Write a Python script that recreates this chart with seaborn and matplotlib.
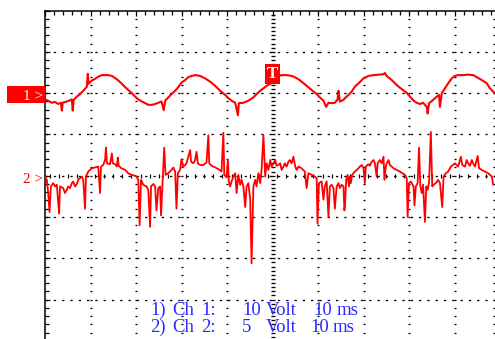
import numpy as np
import pandas as pd
import matplotlib
matplotlib.use("Agg")
import matplotlib.pyplot as plt
from matplotlib.patches import Rectangle
from matplotlib.ticker import MultipleLocator
import seaborn as sns

# ---------------- data (time in ms, voltage in V) ----------------
ch1_t = [0.0,0.7,1.5,2.2,2.9,3.5,3.7,3.9,4.5,5.3,5.9,6.1,6.3,7.0,7.7,8.4,9.2,9.4,9.6,10.3,
         11.0,11.7,12.5,13.2,13.9,14.7,15.4,16.1,16.9,17.6,18.3,19.1,19.8,20.5,21.3,22.0,22.7,23.5,24.2,24.9,
         25.6,26.1,26.4,27.1,27.8,28.6,29.3,30.0,30.8,31.5,32.2,33.0,
         34.1,35.2,36.3,37.4,38.5,39.6,40.3,41.0,41.8,42.4,42.6,43.6,44.7,45.8,46.5,47.3,48.0,48.7,49.5,50.0,
         50.5,52.0,53.1,54.2,54.9,55.7,56.4,57.5,58.6,59.7,60.4,61.2,61.8,62.3,63.0,63.7,64.3,64.5,64.8,65.6,65.9,
         66.7,67.4,68.1,68.9,70.0,71.1,72.2,73.3,74.4,74.7,75.1,76.2,77.3,78.4,79.5,80.2,81.0,81.7,82.4,83.1,
         83.9,84.1,84.4,85.1,85.9,86.6,86.8,87.2,87.9,88.6,89.4,90.1,90.8,91.9,93.0,94.1,94.9,96.0,97.1,97.8,98.5,98.9]
ch1_v = [-0.6,-0.9,-1.4,-1.2,-1.7,-1.4,-3.3,-1.4,-1.2,-0.9,-0.6,-3.3,-0.7,0.1,0.7,1.5,2.5,5.6,3.2,4.0,
         4.4,4.9,5.3,5.3,5.3,5.1,4.6,4.0,3.2,2.4,1.7,0.9,0.1,-0.6,-1.1,-1.5,-1.9,-1.9,-1.7,-1.4,
         -1.1,-3.2,-0.9,-0.1,0.7,1.5,2.4,3.5,4.1,4.8,5.1,5.3,
         5.1,4.5,3.7,2.7,1.5,0.5,-0.3,-0.9,-1.4,-4.4,-1.5,-1.4,-0.9,-0.1,0.7,1.5,2.1,2.7,3.2,3.5,
         4.6,5.3,5.3,5.1,4.8,4.3,3.7,2.7,1.7,0.7,-0.1,-0.9,-2.4,-1.4,-1.5,-1.4,-0.6,1.5,-1.1,-0.7,-0.3,
         0.5,1.3,2.5,3.3,4.5,5.1,5.3,5.4,5.5,5.8,5.1,4.1,2.9,1.9,1.0,0.1,-0.9,-1.4,-1.7,-1.4,
         -2.4,-4.0,-1.5,-0.9,-0.1,0.5,-2.4,0.9,2.1,3.3,4.5,5.1,5.3,5.3,5.4,5.3,4.8,4.1,3.3,2.1,1.3,0.9]

ch2_t = [0.0,0.4,0.7,1.0,1.3,1.8,2.2,2.6,3.1,3.3,4.0,4.4,4.8,5.1,5.5,5.9,6.2,6.6,7.0,7.3,
         7.7,8.1,8.4,8.8,9.0,9.5,10.3,11.0,11.7,12.1,12.3,12.8,13.2,13.4,13.6,14.3,14.7,14.9,15.4,15.8,
         16.0,16.2,16.8,17.6,18.3,19.0,19.8,20.1,20.5,20.8,21.1,21.6,22.3,22.7,23.1,23.3,23.8,24.2,24.5,24.9,
         25.3,25.5,25.8,26.2,26.5,27.1,27.8,28.2,28.6,28.9,29.2,29.7,30.0,30.4,30.8,31.1,31.9,32.1,32.6,33.0,
         33.3,33.6,34.1,34.8,35.5,35.9,36.1,36.6,37.4,38.1,38.8,39.2,39.4,39.9,40.2,40.4,40.7,41.0,41.4,41.8,
         42.1,42.5,42.9,43.2,43.6,44.0,44.3,44.7,45.1,45.4,45.8,46.2,46.5,46.9,47.3,47.6,48.0,48.4,48.7,49.1,
         49.5,49.8,50.2,50.6,50.9,51.3,51.7,52.0,52.4,52.7,53.1,53.5,53.8,54.2,54.6,55.0,55.3,55.7,56.4,57.1,
         57.5,57.9,58.6,59.3,59.7,59.9,60.2,60.8,61.2,61.5,61.9,62.3,62.6,63.0,63.4,63.7,64.1,64.5,64.8,65.2,
         65.6,65.8,
         65.9,66.2,66.5,66.8,67.0,67.2,67.5,67.8,68.1,68.5,68.9,69.2,69.6,70.0,70.3,70.5,71.1,71.4,71.8,72.2,
         72.5,72.9,73.1,73.6,74.0,74.4,74.6,74.9,75.1,75.5,75.8,76.2,76.6,77.3,78.0,78.8,79.1,79.5,79.7,80.0,
         80.4,81.0,81.2,81.5,81.9,82.2,82.5,82.8,83.1,83.5,83.8,84.1,84.4,84.8,85.1,85.4,85.9,86.4,86.8,87.3,
         87.6,88.1,88.6,89.2,89.7,90.1,90.8,91.4,91.7,92.3,92.7,93.0,93.4,93.8,94.1,94.5,95.1,95.4,96.0,96.7,
         97.4,98.2,98.5]
ch2_v = [0.3,-0.1,-1.7,-4.0,-0.9,-0.5,-0.9,-0.7,-4.2,-0.9,-1.1,-1.7,-1.3,-0.9,-1.1,-0.5,-0.3,-0.9,-0.6,-0.1,
         0.1,0.3,-0.1,-3.6,0.3,0.9,1.3,1.4,1.5,-1.7,1.5,1.7,2.3,3.8,1.9,1.8,3.1,1.9,1.8,1.5,
         2.6,1.6,1.3,1.1,0.7,0.5,0.4,0.3,-0.1,-5.6,-0.1,-0.7,-0.9,-1.3,-5.8,-0.9,-0.6,-0.9,-3.8,-1.1,
         -0.9,-4.4,-0.8,3.8,0.5,0.7,1.1,1.4,0.9,-3.6,0.7,1.1,2.4,1.5,1.7,1.9,3.5,2.1,1.9,2.3,
         3.3,1.9,1.7,1.7,2.0,5.3,1.9,1.6,1.4,1.2,0.9,5.6,0.5,0.2,2.3,-0.3,-0.9,-0.3,0.3,0.7,
         -1.7,0.5,-0.7,-0.1,-0.9,-3.4,-0.9,-0.5,-2.5,-10.2,-0.9,-0.1,-0.9,0.7,-0.5,1.1,5.3,0.3,1.9,1.1,
         2.3,1.5,1.9,2.3,1.6,1.7,1.9,1.1,1.5,1.9,1.5,2.1,2.3,1.9,2.7,1.5,1.1,1.5,1.3,0.9,
         -1.1,0.7,0.5,0.3,0.1,-5.4,-0.5,-0.3,-2.5,-0.9,-0.3,-4.6,-0.9,-0.7,-1.1,-3.6,-0.9,-0.5,-1.1,-0.7,
         -0.9,-3.8,
         -3.4,-0.1,0.5,-0.9,0.3,-0.5,0.5,0.7,0.9,1.1,1.3,1.5,1.7,1.3,-0.5,1.5,1.8,1.6,2.1,2.3,
         1.9,0.3,1.9,2.3,1.9,2.7,-0.1,1.5,1.9,2.3,1.7,1.5,1.3,1.1,0.9,0.6,0.5,0.1,-4.6,-0.5,
         -0.3,-0.9,-3.2,-0.9,-0.5,3.8,-0.9,-1.7,-0.7,-5.2,-0.9,-1.3,-0.5,5.7,-0.9,-0.7,-0.5,-0.1,-0.5,-3.4,
         0.3,0.7,0.9,1.5,1.7,1.9,1.5,2.7,1.7,1.5,2.3,1.9,1.6,2.3,1.9,1.5,2.8,1.3,1.1,0.9,
         0.7,0.3,-0.7]

ch_names = ["1", "2"]
volt_per_div = [10, 5]
ms_per_div = 10
ground_div = [1.906, -0.08]       # channel ground markers, in screen divisions
trigger_ms, trigger_div = 50.0, 2.47
# settings read-out: words of each row
legend_words = [["1)", "Ch", "1:", "10", "Volt", "10", "ms"],
                ["2)", "Ch", "2:", "5", "Volt", "10", "ms"]]

# ---------------- figure ----------------
W, H = 495, 339
sns.set_style("white")
plt.rcParams["lines.scale_dashes"] = False
fig = plt.figure(figsize=(W / 100, H / 100), dpi=100)
fig.patch.set_facecolor("white")

L, T, DW, DH = 45.0, 10.5, 45.5, 41.3
ax = fig.add_axes([L / W, (H - (T + 8 * DH)) / H, 10 * DW / W, 8 * DH / H])
ax.set_xlim(0, 10 * ms_per_div)
ax.set_ylim(-4, 4)
ax.set_facecolor("white")

for s in ["bottom", "right"]:
    ax.spines[s].set_visible(False)
for s in ["left", "top"]:
    ax.spines[s].set_color("black")
    ax.spines[s].set_linewidth(1.1)
ax.xaxis.set_major_locator(MultipleLocator(ms_per_div))
ax.xaxis.set_minor_locator(MultipleLocator(ms_per_div / 5))
ax.yaxis.set_major_locator(MultipleLocator(1))
ax.yaxis.set_minor_locator(MultipleLocator(0.2))
ax.tick_params(which="both", direction="in", left=True, top=True, bottom=False, right=False,
               labelleft=False, labelbottom=False, labeltop=False, color="black", width=0.9)
ax.tick_params(which="major", length=3.5)
ax.tick_params(which="minor", length=2.6)

# grid: horizontal dotted lines
px = 0.72
for gy in range(-3, 4):
    ax.axhline(gy, color="black", lw=1.0 * px * 1.3, ls=(0, (2.3 * px, 6.0 * px)), zorder=1)
# vertical dotted lines (tick-like marks)
ys = np.arange(-4, 4.001, 0.2)
xgrid = [k * ms_per_div for k in range(1, 10) if k != 5] + [98.7]
for gx in xgrid:
    ax.plot(np.full_like(ys, gx), ys, ls="none", marker="_", ms=2.8 * px, mew=1.3 * px,
            color="black", zorder=1)
# center axes with fine marks
ys2 = np.arange(-4, 4.001, 0.1)
ax.plot(np.full_like(ys2, 5 * ms_per_div), ys2, ls="none", marker="_", ms=5 * px, mew=1.3 * px,
        color="black", zorder=1)
xs2 = np.arange(1, 100, 2.0)
ax.plot(xs2, np.zeros_like(xs2), ls="none", marker="|", ms=4.5 * px, mew=1.2 * px,
        color="black", zorder=1)

# traces
df1 = pd.DataFrame({"t": ch1_t, "y": ground_div[0] + np.array(ch1_v) / volt_per_div[0]})
df2 = pd.DataFrame({"t": ch2_t, "y": ground_div[1] + np.array(ch2_v) / volt_per_div[1]})
sns.lineplot(data=df1, x="t", y="y", ax=ax, color="#ff0000", lw=1.5, sort=False, estimator=None, zorder=3)
sns.lineplot(data=df2, x="t", y="y", ax=ax, color="#ff0000", lw=1.3, sort=False, estimator=None, zorder=3)
ax.set_xlabel("")
ax.set_ylabel("")

# channel markers
def fy(pix):
    return 1 - pix / H

ax.add_patch(Rectangle((7 / W, fy(103)), 38 / W, 17 / H, transform=fig.transFigure,
                       facecolor="#ff0000", edgecolor="none", zorder=5, clip_on=False))
ytr = ax.get_yaxis_transform()
ax.text(-0.005, ground_div[0], ch_names[0] + " >", transform=ytr, ha="right", va="center",
        color="white", fontsize=11, family="Liberation Serif", zorder=6, clip_on=False)
ax.text(-0.005, ground_div[1], ch_names[1] + " >", transform=ytr, ha="right", va="center",
        color="#ff0000", fontsize=11, family="Liberation Serif", zorder=6, clip_on=False)

# trigger marker
ax.text(trigger_ms, trigger_div, "T", ha="center", va="center", color="white", fontsize=12,
        fontweight="bold", family="Liberation Serif", zorder=6,
        bbox=dict(boxstyle="square,pad=0.12", facecolor="#ff0000", edgecolor="none"))

# settings text, word by word
blue = "#2a2aff"
rows_y = [310.5, 327.5]
word_x = [[150, 172, 201, 242, 297, 313, 337],
          [150, 172, 201, 242, 297, 310, 333]]
word_ha = ["left", "left", "left", "left", "right", "left", "left"]
for words, xs_, ry in zip(legend_words, word_x, rows_y):
    for w, wx, ha in zip(words, xs_, word_ha):
        fig.text(wx / W, fy(ry), w, ha=ha, va="center", color=blue, fontsize=13.5,
                 family="Liberation Serif")

fig.savefig("out.png", dpi=100)
